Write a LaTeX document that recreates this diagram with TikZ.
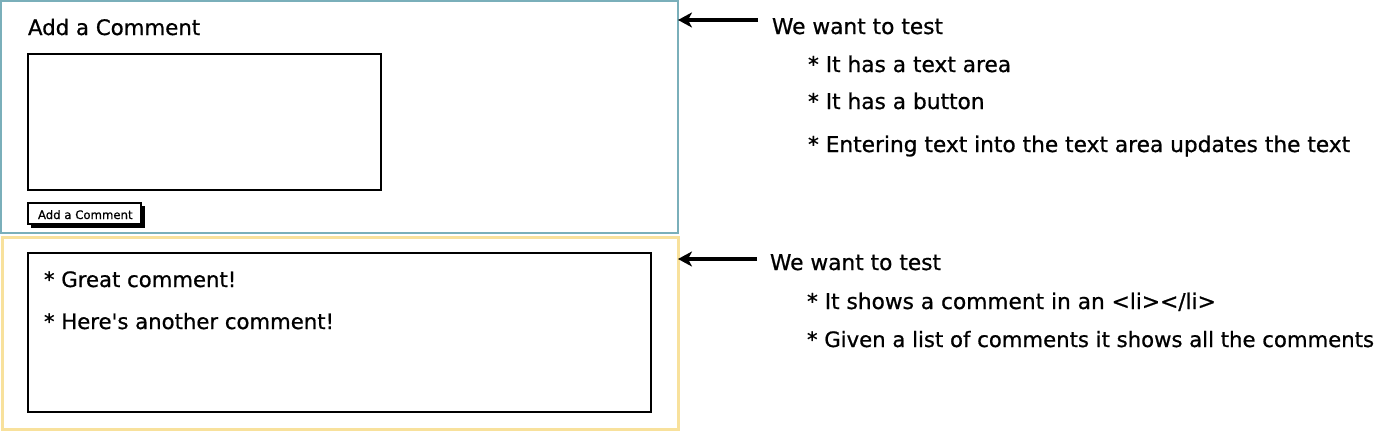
\documentclass[tikz,border=0pt]{standalone}
\usepackage{fontspec}
\setmainfont{DejaVu Sans}[FakeBold=0.8]
\usetikzlibrary{arrows.meta}
\definecolor{panelteal}{HTML}{7AAFBA}
\definecolor{panelyellow}{HTML}{F8E19C}
\tikzset{
  box/.style={draw, anchor=north west, inner sep=0pt, outer sep=0pt},
  panel/.style={box, line width=2.2pt},
  sketchbox/.style={box, draw=black, line width=2.5pt, fill=white},
  txt/.style={anchor=base west, inner sep=0pt, outer sep=0pt, text=black},
  note/.style={txt, font=\fontsize{21.7}{26}\selectfont},
  pointer/.style={line width=3.6pt, -{Stealth[length=14pt,width=15pt,inset=4pt]}},
}
\begin{document}
\begin{tikzpicture}[x=1pt,y=-1pt]
\useasboundingbox (0,0) rectangle (1384,431);
% panels
\node[panel, draw=panelteal, minimum width=677pt, minimum height=232pt] (form) at (1,1) {};
\node[panel, draw=panelyellow, line width=3pt, minimum width=676pt, minimum height=192pt] (list) at (2,237) {};
% form contents
\node[txt, font=\fontsize{21.3}{26}\selectfont] (title) at (28,35) {Add a Comment};
\node[sketchbox, minimum width=353pt, minimum height=136pt] (area) at (28,54) {};
\node[box, draw=black, fill=black, line width=1pt, minimum width=113pt, minimum height=21pt] (btnshadow) at (31,206) {};
\node[box, draw=black, fill=white, line width=1.4pt, minimum width=113pt, minimum height=21pt] (btn) at (28,203) {};
\node[txt, font=\fontsize{11.7}{14}\selectfont] (btntext) at (38,219) {Add a Comment};
% list contents
\node[sketchbox, minimum width=623pt, minimum height=159pt] (comments) at (28,253) {};
\node[txt, font=\fontsize{21.2}{26}\selectfont] (c1) at (44,287) {* Great comment!};
\node[txt, font=\fontsize{21.2}{26}\selectfont] (c2) at (44,329) {* Here\textquotesingle s another comment!};
% notes
\node[note] (n1) at (772,34) {We want to test};
\node[note] (n1a) at (808,72) {* It has a text area};
\node[note] (n1b) at (808,109) {* It has a button};
\node[note] (n1c) at (808,152) {* Entering text into the text area updates the text};
\node[note] (n2) at (770,270) {We want to test};
\node[note] (n2a) at (807,309) {* It shows a comment in an <li></li>};
\node[note, font=\fontsize{21.2}{26}\selectfont] (n2b) at (807,347) {* Given a list of comments it shows all the comments};
% arrows
\coordinate (t1) at (758,20);
\coordinate (t2) at (757,259);
\draw[pointer] (t1) -- (form.east |- t1);
\draw[pointer] (t2) -- (list.east |- t2);
\end{tikzpicture}
\end{document}
